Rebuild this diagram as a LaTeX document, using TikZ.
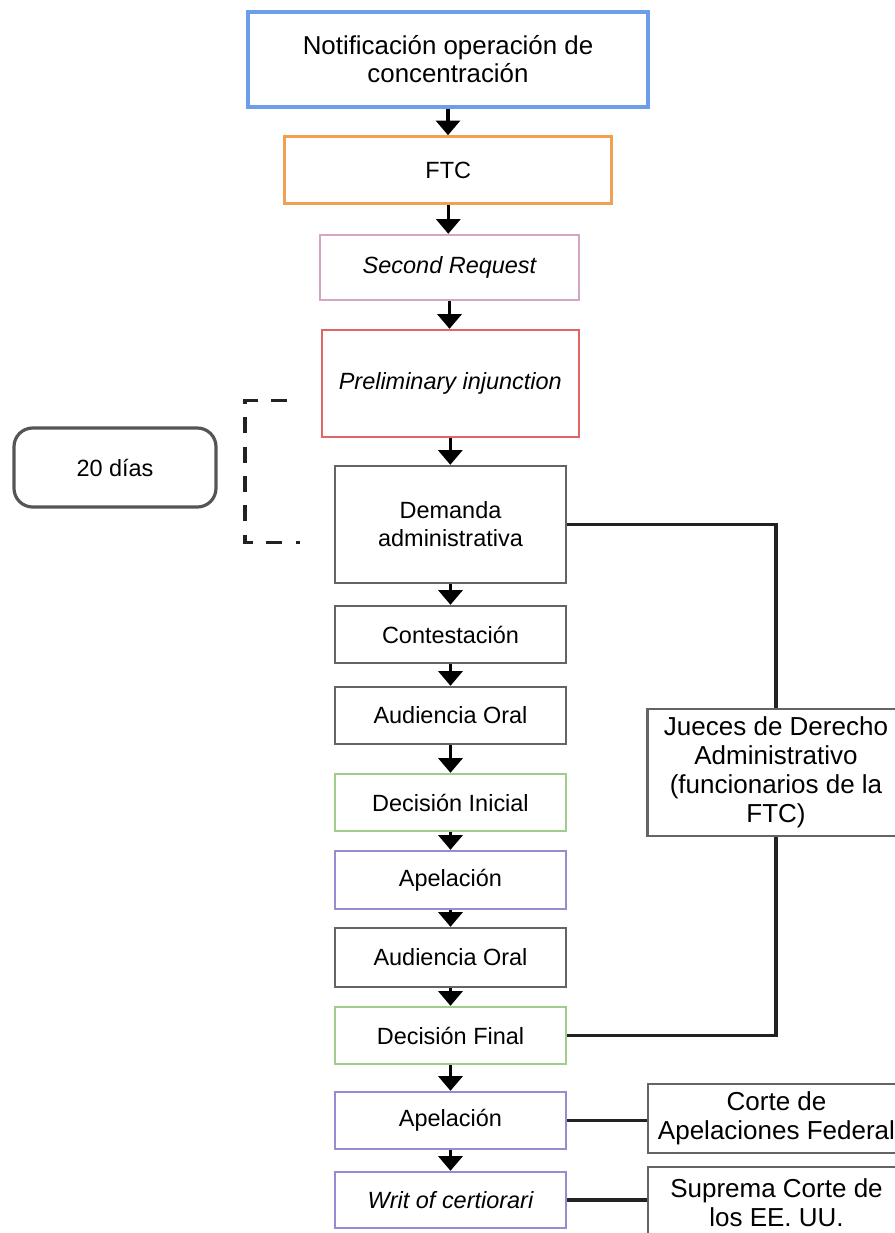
\documentclass[tikz,border=0pt]{standalone}
\usepackage{fontspec}
\setmainfont{Liberation Sans}
\usetikzlibrary{arrows.meta}
\definecolor{cblue}{HTML}{6D9EEB}
\definecolor{corange}{HTML}{F0A050}
\definecolor{cpink}{HTML}{D4A5C4}
\definecolor{cred}{HTML}{E06666}
\definecolor{cgreen}{HTML}{A2CC8E}
\definecolor{cpurple}{HTML}{9A8AD2}
\definecolor{cgray}{HTML}{646464}
\definecolor{cline}{HTML}{222222}
\definecolor{cdias}{HTML}{555555}
\begin{document}
\begin{tikzpicture}[x=0.75pt,y=-0.75pt,
  box/.style={draw=cgray, line width=1.8pt, minimum width=173.25pt, align=center,
    font=\fontsize{17.6}{21}\selectfont, inner sep=0pt},
  rbox/.style={draw=cgray, line width=1.8pt, minimum width=193pt, align=center,
    font=\fontsize{19.5}{21.75}\selectfont, inner sep=0pt},
  arr/.style={draw=black, line width=2.4pt, -{Triangle[width=18pt,length=11pt]}},
  conn/.style={draw=cline, line width=2.6pt},
  dashb/.style={draw=cline, line width=2.6pt, dash pattern=on 12pt off 10pt}]
\useasboundingbox (0,0) rectangle (895,1233);
\clip (0,0) rectangle (895,1233);

\node[box, draw=cblue, line width=2.4pt, minimum width=300pt, minimum height=71.25pt,
  font=\fontsize{19.4}{21}\selectfont] (notif) at (448,59.5) {Notificación operación de\\concentración};
\node[box, draw=corange, line width=2.4pt, minimum width=245.25pt, minimum height=50.25pt] (ftc) at (448.3,170.3) {FTC};
\node[box, draw=cpink, minimum width=194.25pt, minimum height=48.75pt] (second) at (449.5,267.5) {\itshape Second Request};
\node[box, draw=cred, minimum width=192.75pt, minimum height=80.25pt] (prelim) at (450.3,383.5) {\itshape Preliminary injunction};
\node[box, minimum height=87.75pt] (demanda) at (450.5,524.5) {Demanda\\administrativa};
\node[box, minimum height=42.75pt] (contest) at (450.5,634.5) {Contestación};
\node[box, minimum height=42.75pt] (aud1) at (450.5,715.5) {Audiencia Oral};
\node[box, draw=cgreen, minimum height=42.75pt] (decini) at (450.5,802.5) {Decisión Inicial};
\node[box, draw=cpurple, minimum height=43.5pt] (apel1) at (450.5,880) {Apelación};
\node[box, minimum height=44.25pt] (aud2) at (450.5,957.5) {Audiencia Oral};
\node[box, draw=cgreen, minimum height=42.75pt] (decfin) at (450.5,1035.5) {Decisión Final};
\node[box, draw=cpurple, minimum height=42.75pt] (apel2) at (450.5,1120.5) {Apelación};
\node[box, draw=cpurple, minimum height=42pt] (writ) at (450.5,1200) {\itshape Writ of certiorari};

\node[rbox, minimum height=95.25pt] (jueces) at (776,772.5) {Jueces de Derecho\\Administrativo\\(funcionarios de la\\FTC)};
\node[rbox, minimum height=51.75pt] (corte) at (776.5,1118.5) {Corte de\\Apelaciones Federal};
\node[rbox, minimum height=54pt] (suprema) at (776.5,1203) {Suprema Corte de\\los EE. UU.};

\node[draw=cdias, line width=2.4pt, rounded corners=14pt, minimum width=151.5pt, minimum height=59.25pt,
  font=\fontsize{17.6}{21}\selectfont, inner sep=0pt] (dias) at (115,467.5) {20 días};

\foreach \a/\b in {notif/ftc, ftc/second, second/prelim, prelim/demanda, demanda/contest,
  contest/aud1, aud1/decini, decini/apel1, apel1/aud2, aud2/decfin, decfin/apel2, apel2/writ}
  \draw[arr] (\a.south) -- (\a.south |- \b.north);

\draw[conn] (demanda.east) -| (jueces.north);
\draw[conn] (jueces.south) |- (decfin.east);
\draw[conn] (apel2.east) -- (apel2.east -| corte.west);
\draw[conn] (writ.east) -- (writ.east -| suprema.west);

\coordinate (bt) at (287,400.7);
\coordinate (bb) at (300,542.7);
\draw[dashb] (bt) -- (245,400.7) -- (245,542.7) -- (bb);
\end{tikzpicture}
\end{document}
